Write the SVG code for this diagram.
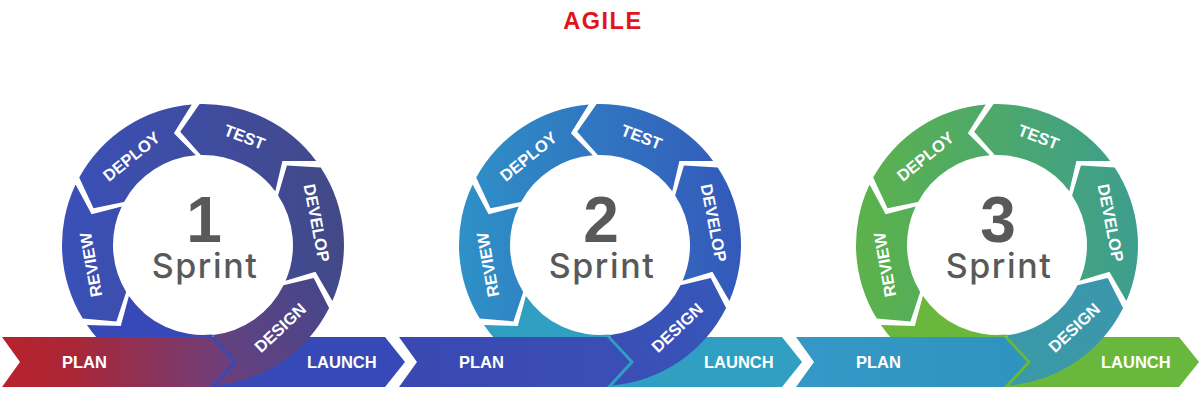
<svg xmlns="http://www.w3.org/2000/svg" width="1200" height="404" viewBox="0 0 1200 404">
<style>
.lbl{font-family:"Liberation Sans",Arial,sans-serif;font-weight:bold;font-size:16.5px;fill:#fff;text-anchor:middle}
.bar{font-family:"Liberation Sans",Arial,sans-serif;font-weight:bold;font-size:16.5px;fill:#fff}
.num{font-family:"Liberation Sans",Arial,sans-serif;font-weight:bold;font-size:64px;fill:#595959;text-anchor:middle}
.spr{font-family:Inter,"DejaVu Sans",sans-serif;font-weight:500;font-size:34px;fill:#595959;text-anchor:middle;letter-spacing:1.6px}
.title{font-family:"Liberation Sans",Arial,sans-serif;font-weight:bold;font-size:23.5px;fill:#e1131d;text-anchor:middle;letter-spacing:1.5px}
</style>
<defs>
<linearGradient id="r1" gradientUnits="userSpaceOnUse" x1="-140" y1="0" x2="140" y2="0"><stop offset="0" stop-color="#3a50b8"/><stop offset="1" stop-color="#434987"/></linearGradient>
<linearGradient id="d1" gradientUnits="userSpaceOnUse" x1="10" y1="140" x2="120" y2="40"><stop offset="0" stop-color="#6c3f7c"/><stop offset="1" stop-color="#45478b"/></linearGradient>
<linearGradient id="p1" gradientUnits="userSpaceOnUse" x1="-201" y1="0" x2="30" y2="0"><stop offset="0" stop-color="#b8222c"/><stop offset="0.3" stop-color="#ab2636"/><stop offset="1" stop-color="#6a407e"/></linearGradient>
<linearGradient id="r2" gradientUnits="userSpaceOnUse" x1="-140" y1="0" x2="140" y2="0"><stop offset="0" stop-color="#2e91c7"/><stop offset="1" stop-color="#3459ba"/></linearGradient>
<linearGradient id="d2" gradientUnits="userSpaceOnUse" x1="10" y1="140" x2="120" y2="40"><stop offset="0" stop-color="#3b4db5"/><stop offset="1" stop-color="#3657b9"/></linearGradient>
<linearGradient id="p2" gradientUnits="userSpaceOnUse" x1="-201" y1="0" x2="30" y2="0"><stop offset="0" stop-color="#3a48b2"/><stop offset="1" stop-color="#3a4fb6"/></linearGradient>
<linearGradient id="r3" gradientUnits="userSpaceOnUse" x1="-140" y1="0" x2="140" y2="0"><stop offset="0" stop-color="#5cb24a"/><stop offset="1" stop-color="#3d9e8e"/></linearGradient>
<linearGradient id="d3" gradientUnits="userSpaceOnUse" x1="10" y1="140" x2="120" y2="40"><stop offset="0" stop-color="#3a9aa6"/><stop offset="1" stop-color="#3b96ad"/></linearGradient>
<linearGradient id="p3" gradientUnits="userSpaceOnUse" x1="-201" y1="0" x2="30" y2="0"><stop offset="0" stop-color="#3598c6"/><stop offset="1" stop-color="#2f93bf"/></linearGradient>
<path id="bottomSeg" d="M-116.1,80.1 A141,141 0 0 0 14.7,140.2 L9.4,89.5 A90,90 0 0 1 -74.1,51.1 L-82.2,81.1 Z"/>
<path id="launchBar" d="M-3,92 L182,92 L202,117 L182,142 L-3,142 Z"/>
<path id="designSeg" d="M12.4,140.5 A141,141 0 0 0 126.1,63.1 L110.7,33 L80.5,40.3 A90,90 0 0 1 9,90.3 L34,117 Z"/>
<path id="developSeg" d="M129.4,56 A141,141 0 0 0 117.7,-77.6 L83.9,-79.4 L75.1,-49.5 A90,90 0 0 1 82.6,35.7 L112.4,26.8 Z"/>
<path id="testSeg" d="M113.2,-84.1 A141,141 0 0 0 -3.4,-141 L-22.8,-113.2 L-2.2,-90 A90,90 0 0 1 72.3,-53.7 L79.4,-83.9 Z"/>
<path id="deploySeg" d="M-11.3,-140.5 A141,141 0 0 0 -123.8,-67.5 L-109.5,-36.8 L-79,-43.1 A90,90 0 0 1 -7.2,-89.7 L-29.1,-111.8 Z"/>
<path id="reviewSeg" d="M-127.4,-60.5 A141,141 0 0 0 -120.3,73.5 L-86.6,76.4 L-76.8,46.9 A90,90 0 0 1 -81.3,-38.6 L-111.4,-30.7 Z"/>
<path id="planBar" d="M-201,92 L7,92 L30,117 L7,142 L-201,142 L-183,117 Z"/>
</defs>
<rect width="1200" height="404" fill="#fff"/>
<g id="title"><text class="title" x="603" y="28.5">AGILE</text></g>

<g id="sprint1" transform="translate(203,245)">
  <use id="s1-bottom" href="#bottomSeg" fill="#3649b6"/>
  <use id="s1-launch-bar" href="#launchBar" fill="#3649b6"/>
  <g id="s1-develop"><use href="#developSeg" fill="url(#r1)"/><text class="lbl" dy="0.36em" transform="translate(113.9,-22.1) rotate(79)">DEVELOP</text></g>
  <g id="s1-test"><use href="#testSeg" fill="url(#r1)"/><text class="lbl" dy="0.36em" transform="translate(41.6,-108.3) rotate(21)">TEST</text></g>
  <g id="s1-deploy"><use href="#deploySeg" fill="url(#r1)"/><text class="lbl" dy="0.36em" transform="translate(-71.7,-88.6) rotate(-39)">DEPLOY</text></g>
  <g id="s1-review"><use href="#reviewSeg" fill="url(#r1)"/><text class="lbl" dy="0.36em" transform="translate(-112.3,19.8) rotate(-100)">REVIEW</text></g>
  <g id="s1-design"><use href="#designSeg" fill="url(#d1)"/><text class="lbl" dy="0.36em" transform="translate(77.1,82.6) rotate(-43)">DESIGN</text></g>
  <g id="s1-plan"><use href="#planBar" fill="url(#p1)"/><text class="bar" x="-141" y="123">PLAN</text></g>
  <g id="s1-launch"><text class="bar" x="104" y="123">LAUNCH</text></g>
  <g id="s1-center"><text class="num" x="1" y="-3">1</text><text class="spr" x="2" y="33">Sprint</text></g>
</g>

<g id="sprint2" transform="translate(600,245)">
  <use id="s2-bottom" href="#bottomSeg" fill="#309fc2"/>
  <use id="s2-launch-bar" href="#launchBar" fill="#309fc2"/>
  <g id="s2-develop"><use href="#developSeg" fill="url(#r2)"/><text class="lbl" dy="0.36em" transform="translate(113.9,-22.1) rotate(79)">DEVELOP</text></g>
  <g id="s2-test"><use href="#testSeg" fill="url(#r2)"/><text class="lbl" dy="0.36em" transform="translate(41.6,-108.3) rotate(21)">TEST</text></g>
  <g id="s2-deploy"><use href="#deploySeg" fill="url(#r2)"/><text class="lbl" dy="0.36em" transform="translate(-71.7,-88.6) rotate(-39)">DEPLOY</text></g>
  <g id="s2-review"><use href="#reviewSeg" fill="url(#r2)"/><text class="lbl" dy="0.36em" transform="translate(-112.3,19.8) rotate(-100)">REVIEW</text></g>
  <g id="s2-design"><use href="#designSeg" fill="url(#d2)"/><text class="lbl" dy="0.36em" transform="translate(77.1,82.6) rotate(-43)">DESIGN</text></g>
  <g id="s2-plan"><use href="#planBar" fill="url(#p2)"/><text class="bar" x="-141" y="123">PLAN</text></g>
  <g id="s2-launch"><text class="bar" x="104" y="123">LAUNCH</text></g>
  <g id="s2-center"><text class="num" x="1" y="-3">2</text><text class="spr" x="2" y="33">Sprint</text></g>
</g>

<g id="sprint3" transform="translate(997,245)">
  <use id="s3-bottom" href="#bottomSeg" fill="#69b83d"/>
  <use id="s3-launch-bar" href="#launchBar" fill="#69b83d"/>
  <g id="s3-develop"><use href="#developSeg" fill="url(#r3)"/><text class="lbl" dy="0.36em" transform="translate(113.9,-22.1) rotate(79)">DEVELOP</text></g>
  <g id="s3-test"><use href="#testSeg" fill="url(#r3)"/><text class="lbl" dy="0.36em" transform="translate(41.6,-108.3) rotate(21)">TEST</text></g>
  <g id="s3-deploy"><use href="#deploySeg" fill="url(#r3)"/><text class="lbl" dy="0.36em" transform="translate(-71.7,-88.6) rotate(-39)">DEPLOY</text></g>
  <g id="s3-review"><use href="#reviewSeg" fill="url(#r3)"/><text class="lbl" dy="0.36em" transform="translate(-112.3,19.8) rotate(-100)">REVIEW</text></g>
  <g id="s3-design"><use href="#designSeg" fill="url(#d3)"/><text class="lbl" dy="0.36em" transform="translate(77.1,82.6) rotate(-43)">DESIGN</text></g>
  <g id="s3-plan"><use href="#planBar" fill="url(#p3)"/><text class="bar" x="-141" y="123">PLAN</text></g>
  <g id="s3-launch"><text class="bar" x="104" y="123">LAUNCH</text></g>
  <g id="s3-center"><text class="num" x="1" y="-3">3</text><text class="spr" x="2" y="33">Sprint</text></g>
</g>
<g id="connectors"/>
</svg>
